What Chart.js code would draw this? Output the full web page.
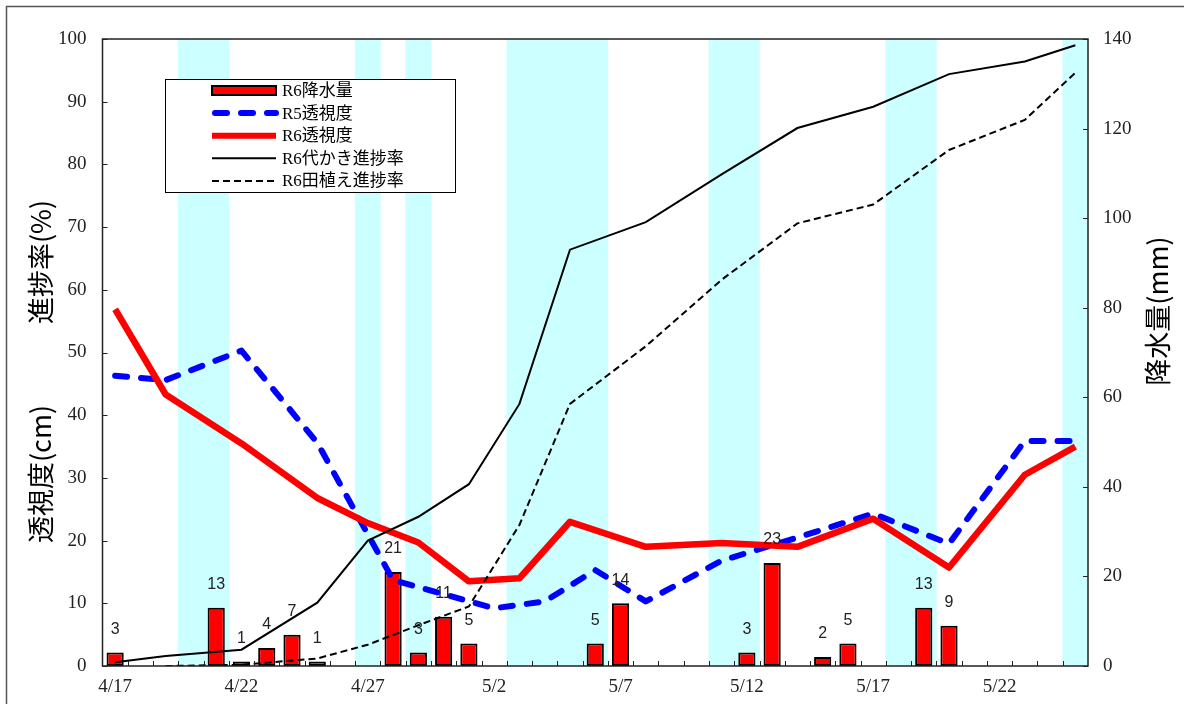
<!DOCTYPE html>
<html>
<head>
<meta charset="utf-8">
<script src="https://cdn.jsdelivr.net/npm/chart.js@4"></script>
<style>
  html, body { margin: 0; padding: 0; background: #fff; overflow: hidden; }
  #wrap { width: 1184px; height: 704px; position: relative; }
</style>
</head>
<body>
<div id="wrap"><canvas id="c" width="1184" height="704"></canvas></div>
<script>
// Calendar days on the x axis (one category per day)
const dates = ['4/17','4/18','4/19','4/20','4/21','4/22','4/23','4/24','4/25','4/26',
  '4/27','4/28','4/29','4/30','5/1','5/2','5/3','5/4','5/5','5/6',
  '5/7','5/8','5/9','5/10','5/11','5/12','5/13','5/14','5/15','5/16',
  '5/17','5/18','5/19','5/20','5/21','5/22','5/23','5/24','5/25'];

// Days shaded as rainy
const rainyDays = ['4/20','4/21','4/27','4/29','5/3','5/4','5/5','5/6','5/11','5/12','5/18','5/19','5/25'];

// R6 daily rainfall (mm)
const rainDates = ['4/17','4/21','4/22','4/23','4/24','4/25','4/28','4/29','4/30','5/1','5/6','5/7','5/12','5/13','5/15','5/16','5/19','5/20'];
const rainMm    = [3, 13, 1, 4, 7, 1, 21, 3, 11, 5, 5, 14, 3, 23, 2, 5, 13, 9];

// R6 survey days
const r6Dates    = ['4/17','4/19','4/22','4/25','4/27','4/29','5/1','5/3','5/5','5/8','5/11','5/14','5/17','5/20','5/23','5/25'];
const r6Clarity  = [56.9, 43.3, 35.5, 26.8, 22.8, 19.7, 13.5, 14.0, 23.0, 19.0, 19.6, 19.0, 23.5, 15.7, 30.5, 35.0];
const r6Puddling = [0.6, 1.6, 2.6, 10.1, 20.0, 23.8, 29.0, 41.8, 66.4, 70.8, 78.4, 85.8, 89.2, 94.4, 96.4, 99.0];
const r6Planting = [null, 0, 0.2, 1.2, 3.4, 6.5, 9.5, 22.5, 41.8, 51.0, 61.6, 70.6, 73.6, 82.3, 87.1, 94.6];

// R5 survey days
const r5Dates   = ['4/17','4/19','4/22','4/25','4/28','5/2','5/4','5/6','5/8','5/11','5/14','5/17','5/20','5/23','5/25'];
const r5Clarity = [46.3, 45.6, 50.3, 35.6, 13.7, 9.2, 10.3, 15.3, 10.3, 16.8, 20.5, 24.3, 19.5, 35.9, 35.9];

// Axis tick values
const leftTicks  = [0,10,20,30,40,50,60,70,80,90,100];
const rightTicks = [0,20,40,60,80,100,120,140];

const pts = (xs, ys) => xs.map((x, i) => ({ x, y: ys[i] })).filter(p => p.y !== null);

const SERIF = '"Liberation Serif", "Noto Sans CJK JP", serif';
const JP = '"Noto Sans CJK JP", sans-serif';

const decor = {
  id: 'decor',
  beforeDraw(chart) {
    const { ctx, width, height } = chart;
    ctx.save();
    ctx.fillStyle = '#fff';
    ctx.fillRect(0, 0, width, height);
    ctx.strokeStyle = '#555';
    ctx.lineWidth = 1.5;
    ctx.strokeRect(6.5, 6.5, width + 40, height + 40);
    ctx.restore();
  },
  afterDatasetsDraw(chart) {
    const { ctx, chartArea: a, scales } = chart;
    ctx.save();
    // plot frame
    ctx.strokeStyle = '#222';
    ctx.lineWidth = 1.5;
    ctx.strokeRect(a.left, a.top, a.right - a.left, a.bottom - a.top);
    // inward tick marks
    ctx.beginPath();
    const n = chart.data.labels.length;
    const step = (a.right - a.left) / n;
    for (let i = 1; i < n; i++) {
      const px = Math.round(scales.x.getPixelForValue(i) - step / 2) + 0.5;
      ctx.moveTo(px, a.bottom);
      ctx.lineTo(px, a.bottom - 5);
    }
    leftTicks.forEach(v => {
      const py = Math.round(scales.y.getPixelForValue(v)) + 0.5;
      ctx.moveTo(a.left, py); ctx.lineTo(a.left + 5, py);
    });
    rightTicks.forEach(v => {
      const py = Math.round(scales.y1.getPixelForValue(v)) + 0.5;
      ctx.moveTo(a.right, py); ctx.lineTo(a.right - 5, py);
    });
    ctx.lineWidth = 1;
    ctx.stroke();

    // rainfall value labels
    const meta = chart.getDatasetMeta(1);
    const ds = chart.data.datasets[1];
    ctx.fillStyle = '#222';
    ctx.font = '16px "Liberation Sans", Arial, sans-serif';
    ctx.textAlign = 'center';
    ctx.textBaseline = 'middle';
    meta.data.forEach((el, i) => {
      ctx.fillText(String(ds.data[i].y), el.x, el.y - 23);
    });
    ctx.restore();
  },
  afterDraw(chart) {
    const { ctx } = chart;
    const dss = chart.data.datasets;
    ctx.save();
    // legend box
    const bx = 165.5, by = 79.5, bw = 290, bh = 113;
    ctx.fillStyle = '#fff';
    ctx.fillRect(bx, by, bw, bh);
    ctx.strokeStyle = '#000';
    ctx.lineWidth = 1;
    ctx.strokeRect(bx, by, bw, bh);
    const order = [1, 3, 2, 4, 5];
    const x0 = 212, x1 = 276, tx = 282;
    order.forEach((di, r) => {
      const d = dss[di];
      const y = 90.5 + r * 22.6;
      if (d.type === 'bar') {
        ctx.fillStyle = d.backgroundColor;
        ctx.fillRect(x0, y - 4.5, x1 - x0, 9);
        ctx.strokeStyle = d.borderColor;
        ctx.lineWidth = 2;
        ctx.setLineDash([]);
        ctx.strokeRect(x0, y - 4.5, x1 - x0, 9);
      } else {
        ctx.strokeStyle = d.borderColor;
        ctx.lineWidth = Math.min(d.borderWidth, 6);
        ctx.lineCap = d.borderCapStyle || 'butt';
        ctx.setLineDash(d.borderDash || []);
        ctx.beginPath();
        ctx.moveTo(x0 + (d.borderCapStyle === 'round' ? 3 : 0), y);
        ctx.lineTo(x1, y);
        ctx.stroke();
      }
      ctx.setLineDash([]);
      ctx.lineCap = 'butt';
      ctx.fillStyle = '#000';
      ctx.font = '17px ' + SERIF;
      ctx.textAlign = 'left';
      ctx.textBaseline = 'middle';
      ctx.fillText(d.label, tx, y + 1);
    });

    // axis titles
    ctx.fillStyle = '#000';
    ctx.font = '27px ' + JP;
    ctx.textAlign = 'center';
    ctx.textBaseline = 'middle';
    const vtext = (t, x, y) => {
      ctx.save(); ctx.translate(x, y); ctx.rotate(-Math.PI / 2); ctx.fillText(t, 0, 0); ctx.restore();
    };
    vtext('進捗率(%)', 41, 262);
    vtext('透視度(cm)', 41, 474);
    vtext('降水量(mm)', 1158, 311);
    ctx.restore();
  }
};

new Chart(document.getElementById('c'), {
  data: {
    labels: dates,
    datasets: [
      {
        type: 'bar', label: '雨天日', yAxisID: 'yBand', order: 9,
        data: rainyDays.map(d => ({ x: d, y: 1 })),
        backgroundColor: '#CCFFFF', borderWidth: 0,
        barPercentage: 1, categoryPercentage: 1, grouped: false
      },
      {
        type: 'bar', label: 'R6降水量', yAxisID: 'y1', order: 5,
        data: pts(rainDates, rainMm),
        backgroundColor: '#FF0000', borderColor: '#000', borderWidth: 2, borderSkipped: false,
        barPercentage: 0.68, categoryPercentage: 1, grouped: false
      },
      {
        type: 'line', label: 'R6透視度', yAxisID: 'y', order: 3,
        data: pts(r6Dates, r6Clarity),
        borderColor: '#FF0000', borderWidth: 6.5, borderJoinStyle: 'round',
        pointRadius: 0, tension: 0, fill: false
      },
      {
        type: 'line', label: 'R5透視度', yAxisID: 'y', order: 4,
        data: pts(r5Dates, r5Clarity),
        borderColor: '#0000FF', borderWidth: 6, borderDash: [12, 14], borderCapStyle: 'round',
        borderJoinStyle: 'round', pointRadius: 0, tension: 0, fill: false
      },
      {
        type: 'line', label: 'R6代かき進捗率', yAxisID: 'y', order: 2,
        data: pts(r6Dates, r6Puddling),
        borderColor: '#000', borderWidth: 2, pointRadius: 0, tension: 0, fill: false
      },
      {
        type: 'line', label: 'R6田植え進捗率', yAxisID: 'y', order: 1,
        data: pts(r6Dates, r6Planting),
        borderColor: '#000', borderWidth: 2, borderDash: [7, 4],
        pointRadius: 0, tension: 0, fill: false
      }
    ]
  },
  options: {
    responsive: false,
    animation: false,
    events: [],
    layout: { padding: { top: 39, left: 0, right: 0, bottom: 0 } },
    plugins: { legend: { display: false }, tooltip: { enabled: false } },
    scales: {
      x: {
        type: 'category', offset: true,
        grid: { display: false, drawTicks: false, tickLength: 0 },
        border: { display: false },
        ticks: {
          autoSkip: false, maxRotation: 0, minRotation: 0, padding: 10,
          color: '#222', font: { family: SERIF, size: 19 },
          callback: (v, i) => (i % 5 === 0 ? dates[i] : '')
        },
        afterFit: s => { s.height = 38; }
      },
      y: {
        position: 'left', min: 0, max: 100,
        grid: { display: false, drawTicks: false, tickLength: 0 },
        border: { display: false },
        ticks: { stepSize: 10, padding: 16, color: '#222', font: { family: SERIF, size: 19 } },
        afterFit: s => { s.width = 102.5; }
      },
      y1: {
        position: 'right', min: 0, max: 140,
        grid: { display: false, drawTicks: false, tickLength: 0 },
        border: { display: false },
        ticks: { stepSize: 20, padding: 15, color: '#222', font: { family: SERIF, size: 19 } },
        afterFit: s => { s.width = 96; }
      },
      yBand: { display: false, min: 0, max: 1 }
    }
  },
  plugins: [decor]
});
</script>
</body>
</html>
